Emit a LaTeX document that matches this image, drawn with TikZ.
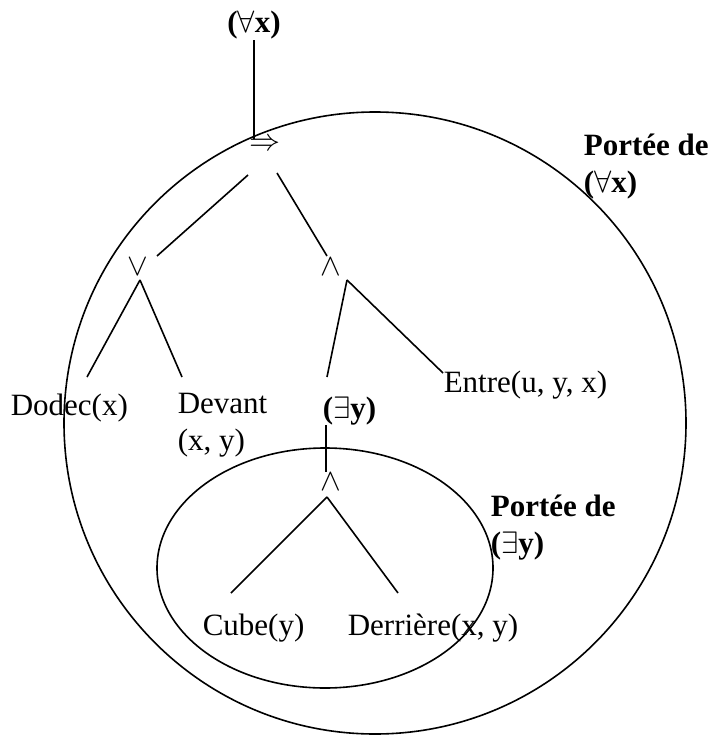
\RequirePackage{fix-cm}
\documentclass[tikz,border=0pt]{standalone}
\usepackage{amsmath}
\usepackage{amssymb}
\usepackage{fontspec}
\setmainfont{Liberation Serif}
\usetikzlibrary{calc,positioning}

\begin{document}
\begin{tikzpicture}[x=1pt,y=-1pt,font=\fontsize{31}{37}\selectfont,
   line width=1.6pt,
   op/.style={inner sep=0pt},
   leaf/.style={inner sep=0pt,anchor=base west,align=left},
   quant/.style={inner sep=0pt,font=\fontsize{31}{37}\selectfont\bfseries},
   portee/.style={inner sep=0pt,anchor=base west,align=left,
                  font=\fontsize{31}{37}\selectfont\bfseries}]
  \useasboundingbox (0,0) rectangle (715,735);
  % the scopes
  \draw (375,423) circle [radius=311pt];
  \draw (325,568) ellipse [x radius=168pt,y radius=120pt];
  % the tree
  \node[quant,anchor=base] (forallx) at (254,33) {($\forall$x)};
  \node[op] (impl) at (265,145) {$\Rightarrow$};
  \node[op] (orl) at (138,267) {$\vee$};
  \node[op] (andl) at (331,267) {$\wedge$};
  \node[leaf] (dodec) at (10,415) {Dodec(x)};
  \node[leaf] (devant) at (177,450) {Devant\\(x, y)};
  \node[leaf] (entre) at (443,392) {Entre(u, y, x)};
  \node[quant,anchor=base west] (existy) at (322,418) {($\exists$y)};
  \node[op] (andin) at (331,482) {$\wedge$};
  \node[leaf] (cube) at (202,635) {Cube(y)};
  \node[leaf] (derriere) at (347,635) {Derrière(x, y)};
  \node[portee] (portx) at (583,193) {Portée de\\($\forall$x)};
  \node[portee] (porty) at (490,553) {Portée de\\($\exists$y)};
  % edges
  \draw (forallx.south) -- (forallx.south |- impl.north);
  \draw ($(impl)+(-17,30)$) -- ($(orl)+(19,-11)$);
  \draw ($(impl)+(12,28)$) -- ($(andl)+(-4,-11)$);
  \draw ($(orl)+(2,13)$) -- ($(dodec.base west)+(77,-38)$);
  \draw ($(orl)+(2,13)$) -- ($(devant.base west)+(5,-73)$);
  \draw ($(andl)+(16,13)$) -- ($(existy.base west)+(5,-41)$);
  \draw ($(andl)+(16,13)$) -- ($(entre.base west)+(0,-19)$);
  \draw ($(existy.base west)+(4,7)$) -- ($(andin)+(-5,-10)$);
  \draw ($(andin)+(-4,15)$) -- ($(cube.base west)+(29,-42)$);
  \draw ($(andin)+(-4,15)$) -- ($(derriere.base west)+(51,-42)$);
\end{tikzpicture}
\end{document}
